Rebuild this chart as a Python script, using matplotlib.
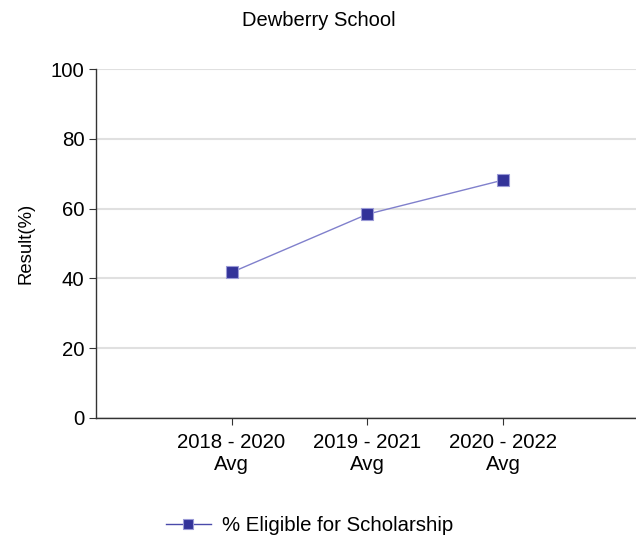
import matplotlib.pyplot as plt

plt.rcParams['font.family'] = ['Liberation Sans', 'DejaVu Sans']

categories = ["2018 - 2020\nAvg", "2019 - 2021\nAvg", "2020 - 2022\nAvg"]
eligible = [41.7, 58.4, 68.2]
positions = [1, 2, 3]

fig = plt.figure(figsize=(6.36, 5.39), dpi=100)
ax = fig.add_axes([0.1505, 0.225, 0.8495, 0.6465])

ax.plot(positions, eligible, color='#8080cc', linewidth=1,
        marker='s', markersize=9, markerfacecolor='#333399',
        markeredgecolor='#9a9ad6', markeredgewidth=0.8,
        label='% Eligible for Scholarship', zorder=3)

ax.set_xlim(0, 3.979)
ax.set_ylim(0, 100)
ax.set_yticks([0, 20, 40, 60, 80, 100])
ax.set_xticks(positions)
ax.set_xticklabels(categories, fontsize=14.7, linespacing=1.2)
ax.tick_params(axis='y', labelsize=14.7, length=5, width=0.8, color='#333333', pad=3)
ax.tick_params(axis='x', length=5, width=0.8, color='#333333', pad=6)

ax.grid(axis='y', color='#e0e0e0', linewidth=1.5)
ax.set_axisbelow(True)
for s in ['top', 'right']:
    ax.spines[s].set_visible(False)
for s in ['left', 'bottom']:
    ax.spines[s].set_color('#333333')
    ax.spines[s].set_linewidth(1)

ax.set_ylabel('Result(%)', fontsize=13.3, labelpad=12)
fig.text(0.502, 0.962, 'Dewberry School', ha='center', va='center', fontsize=14.5)

leg = fig.legend(loc='center', bbox_to_anchor=(0.487, 0.025), frameon=False,
                 fontsize=14.7, handlelength=2.2, handletextpad=0.55)
leg.legend_handles[0].set_markersize(7)
leg.legend_handles[0].set_color('#4a4aaa')
leg.legend_handles[0].set_markerfacecolor('#333399')

fig.savefig('out.png', dpi=100)
